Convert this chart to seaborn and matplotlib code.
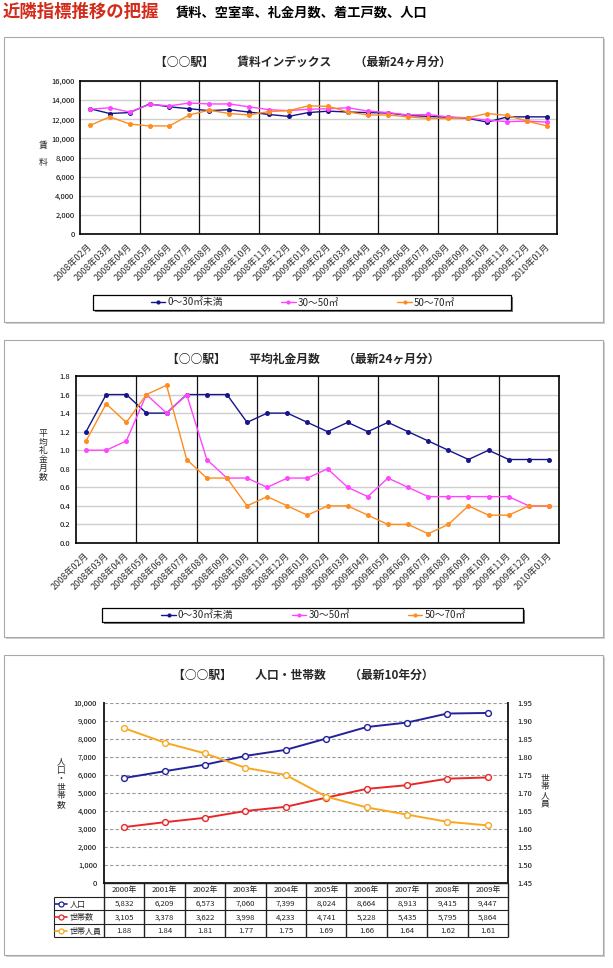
import numpy as np
import pandas as pd
import matplotlib
matplotlib.use("Agg")
import matplotlib.pyplot as plt
import seaborn as sns
from matplotlib.patches import Rectangle
from matplotlib.lines import Line2D
from matplotlib.ticker import FuncFormatter
from matplotlib.transforms import blended_transform_factory, ScaledTranslation

# ---------------- data ----------------
months = ["2008年02月", "2008年03月", "2008年04月", "2008年05月", "2008年06月", "2008年07月",
          "2008年08月", "2008年09月", "2008年10月", "2008年11月", "2008年12月", "2009年01月",
          "2009年02月", "2009年03月", "2009年04月", "2009年05月", "2009年06月", "2009年07月",
          "2009年08月", "2009年09月", "2009年10月", "2009年11月", "2009年12月", "2010年01月"]
series_labels = ["0～30㎡未満", "30～50㎡", "50～70㎡"]

rent_0_30 = [13100, 12600, 12700, 13600, 13300, 13100, 12900, 13000, 12750, 12500, 12300, 12700,
             12850, 12750, 12700, 12650, 12400, 12300, 12200, 12100, 11700, 12250, 12250, 12250]
rent_30_50 = [13050, 13200, 12750, 13550, 13400, 13700, 13600, 13600, 13300, 13000, 12900, 13050,
              13100, 13200, 12850, 12700, 12450, 12500, 12250, 12150, 11900, 11750, 11800, 11700]
rent_50_70 = [11350, 12250, 11500, 11300, 11300, 12450, 12950, 12600, 12450, 12800, 12900, 13400,
              13350, 12750, 12450, 12450, 12250, 12100, 12100, 12150, 12600, 12400, 11800, 11300]

reikin_0_30 = [1.2, 1.6, 1.6, 1.4, 1.4, 1.6, 1.6, 1.6, 1.3, 1.4, 1.4, 1.3,
               1.2, 1.3, 1.2, 1.3, 1.2, 1.1, 1.0, 0.9, 1.0, 0.9, 0.9, 0.9]
reikin_30_50 = [1.0, 1.0, 1.1, 1.6, 1.4, 1.6, 0.9, 0.7, 0.7, 0.6, 0.7, 0.7,
                0.8, 0.6, 0.5, 0.7, 0.6, 0.5, 0.5, 0.5, 0.5, 0.5, 0.4, 0.4]
reikin_50_70 = [1.1, 1.5, 1.3, 1.6, 1.7, 0.9, 0.7, 0.7, 0.4, 0.5, 0.4, 0.3,
                0.4, 0.4, 0.3, 0.2, 0.2, 0.1, 0.2, 0.4, 0.3, 0.3, 0.4, 0.4]

years = ["2000年", "2001年", "2002年", "2003年", "2004年", "2005年", "2006年", "2007年", "2008年", "2009年"]
population = [5832, 6209, 6573, 7060, 7399, 8024, 8664, 8913, 9415, 9447]
households = [3105, 3378, 3622, 3998, 4233, 4741, 5228, 5435, 5795, 5864]
persons_per_household = [1.88, 1.84, 1.81, 1.77, 1.75, 1.69, 1.66, 1.64, 1.62, 1.61]
table_labels = ["人口", "世帯数", "世帯人員"]

# ---------------- style ----------------
sns.set_theme(style="white")
plt.rcParams["font.family"] = ["Noto Sans CJK JP", "DejaVu Sans"]
plt.rcParams["axes.unicode_minus"] = False

W, H, DPI = 613, 968, 100
fig = plt.figure(figsize=(W / DPI, H / DPI), dpi=DPI)
fig.patch.set_facecolor("white")


def fx(x):
    return x / W


def fy(y):
    return 1 - y / H


def box(x0, y0, x1, y1):
    return [x0 / W, 1 - y1 / H, (x1 - x0) / W, (y1 - y0) / H]


def rect(x0, y0, x1, y1, **kw):
    r = Rectangle((fx(x0), fy(y1)), (x1 - x0) / W, (y1 - y0) / H, transform=fig.transFigure, **kw)
    fig.add_artist(r)
    return r


def panel(x0, y0, x1, y1):
    rect(x0 + 2, y0 + 2, x1 + 2, y1 + 2, facecolor="#cfcfcf", edgecolor="none", zorder=-3)
    rect(x0, y0, x1, y1, facecolor="white", edgecolor="#a9a9a9", lw=0.8, zorder=-2)


line_colors = ["#16168a", "#ff45ff", "#ff8c1e"]

# ---------------- header ----------------
fig.text(fx(3), fy(12), "近隣指標推移の把握", color="#d42a1a", fontsize=12.5,
         fontweight="bold", ha="left", va="center")
fig.text(fx(176), fy(13), "賃料、空室率、礼金月数、着工戸数、人口", color="black",
         fontsize=9.5, fontweight="bold", ha="left", va="center")

panel(4, 37, 603, 322)
panel(4, 340, 603, 637)
panel(4, 655, 603, 955)


def monthly_chart(rect_px, values, ymax, ystep, fmt, title, title_y, ylab, ylab_xy, ylab_ls, leg_px):
    df = pd.concat([pd.DataFrame({"idx": np.arange(len(months)), "value": v, "series": name})
                    for name, v in zip(series_labels, values)], ignore_index=True)
    ax = fig.add_axes(box(*rect_px))
    ax.set_facecolor("white")
    for name, color in zip(series_labels, line_colors):
        sub = df[df["series"] == name]
        sns.lineplot(data=sub, x="idx", y="value", color=color, marker="o", markersize=3.6,
                     markeredgewidth=0, linewidth=1.0, ax=ax, legend=False, zorder=3)
    ax.set_xlim(-0.5, len(months) - 0.5)
    ax.set_ylim(0, ymax)
    ax.set_yticks(np.arange(0, ymax + ystep / 2, ystep))
    ax.yaxis.set_major_formatter(FuncFormatter(fmt))
    ax.set_xticks([])
    ax.set_xlabel("")
    ax.set_ylabel("")
    ax.yaxis.grid(True, color="#cfcfcf", lw=1.0)
    ax.set_axisbelow(True)
    for b in np.arange(2.5, len(months) - 1, 3):
        ax.axvline(b, color="#111111", lw=0.9, zorder=2)
    for s in ax.spines.values():
        s.set_visible(True)
        s.set_color("black")
        s.set_linewidth(1.2)
    ax.tick_params(axis="y", length=0, pad=4, labelsize=5.5, labelcolor="black")
    trans = blended_transform_factory(ax.transData, ax.transAxes) + \
        ScaledTranslation(1 / DPI, -11 / DPI, fig.dpi_scale_trans)
    for i, lab in enumerate(months):
        ax.text(i, 0, lab, transform=trans, rotation=45, rotation_mode="anchor",
                ha="right", va="center", fontsize=6.5, color="#333333")
    fig.text(fx(303), fy(title_y), title, ha="center", va="center", fontsize=8.5, fontweight="bold")
    fig.text(fx(ylab_xy[0]), fy(ylab_xy[1]), ylab, ha="center", va="center", fontsize=6.3,
             linespacing=ylab_ls)
    lx0, ly0, lx1, ly1 = leg_px
    rect(lx0 + 2, ly0 + 2, lx1 + 2, ly1 + 2, facecolor="#777777", edgecolor="none", zorder=4)
    rect(lx0, ly0, lx1, ly1, facecolor="white", edgecolor="black", lw=0.9, zorder=5)
    handles = [Line2D([], [], color=c, marker="o", ms=3, mew=0, lw=1.0) for c in line_colors]
    leg = fig.legend(handles, series_labels, loc="center",
                     bbox_to_anchor=(fx((lx0 + lx1) / 2 + 1), fy((ly0 + ly1) / 2)),
                     bbox_transform=fig.transFigure, ncol=3, frameon=False, fontsize=7,
                     handlelength=1.5, handletextpad=0.2, columnspacing=6, borderpad=0)
    leg.set_zorder(6)
    return ax


monthly_chart((80, 81, 557, 234), [rent_0_30, rent_30_50, rent_50_70], 16000, 2000,
              lambda v, p: f"{v:,.0f}",
              "【○○駅】　　賃料インデックス　　（最新24ヶ月分）", 62,
              "賃\n\n料", (43, 154), 1.0, (93, 295, 511, 310))

monthly_chart((76, 376, 559, 543), [reikin_0_30, reikin_30_50, reikin_50_70], 1.8, 0.2,
              lambda v, p: f"{v:.1f}",
              "【○○駅】　　平均礼金月数　　（最新24ヶ月分）", 359,
              "平\n均\n礼\n金\n月\n数", (43, 455), 0.95, (102, 608, 523, 622))

# ---------------- population chart ----------------
c_pop, c_hh, c_pph = "#22229a", "#e82828", "#f8a820"
idx10 = np.arange(len(years))
pop_df = pd.DataFrame({"idx": idx10, "人口": population, "世帯数": households,
                       "世帯人員": persons_per_household})

ax3 = fig.add_axes(box(104, 703, 508, 883))
ax3.set_facecolor("white")
for col, c in [("人口", c_pop), ("世帯数", c_hh)]:
    sns.lineplot(data=pop_df, x="idx", y=col, color=c, marker="o", markersize=4.2,
                 markerfacecolor="white", markeredgecolor=c, markeredgewidth=1.0,
                 linewidth=1.4, ax=ax3, legend=False, zorder=3)
ax3.set_xlim(-0.5, len(years) - 0.5)
ax3.set_ylim(0, 10000)
ax3.set_yticks(np.arange(0, 10001, 1000))
ax3.yaxis.set_major_formatter(FuncFormatter(lambda v, p: f"{v:,.0f}"))
ax3.set_xticks([])
ax3.set_xlabel("")
ax3.set_ylabel("")
ax3.yaxis.grid(True, color="#9a9a9a", lw=0.8, linestyle=(0, (3, 2)))
ax3.set_axisbelow(True)
ax3.spines["top"].set_visible(False)
ax3.spines["right"].set_visible(False)
ax3.spines["left"].set_color("#222222")
ax3.spines["left"].set_linewidth(1.4)
ax3.spines["bottom"].set_color("black")
ax3.spines["bottom"].set_linewidth(1.2)
ax3.tick_params(axis="y", length=0, pad=5, labelsize=5.5, labelcolor="black")

ax3b = ax3.twinx()
sns.lineplot(data=pop_df, x="idx", y="世帯人員", color=c_pph, marker="o", markersize=4.2,
             markerfacecolor="white", markeredgecolor=c_pph, markeredgewidth=1.0,
             linewidth=1.4, ax=ax3b, legend=False, zorder=3)
ax3b.set_ylim(1.45, 1.95)
ax3b.set_yticks(np.arange(1.45, 1.951, 0.05))
ax3b.yaxis.set_major_formatter(FuncFormatter(lambda v, p: f"{v:.2f}"))
ax3b.set_ylabel("")
ax3b.grid(False)
for s in ["top", "left", "bottom"]:
    ax3b.spines[s].set_visible(False)
ax3b.spines["right"].set_color("#222222")
ax3b.spines["right"].set_linewidth(1.4)
ax3b.tick_params(axis="y", length=0, pad=7, labelsize=5.5, labelcolor="black")

fig.text(fx(303), fy(675), "【○○駅】　　人口・世帯数　　（最新10年分）", ha="center", va="center",
         fontsize=8.5, fontweight="bold")
fig.text(fx(61), fy(783), "人\n口\n・\n世\n帯\n数", ha="center", va="center", fontsize=6.3,
         linespacing=0.95)
fig.text(fx(545), fy(791), "世\n帯\n人\n員", ha="center", va="center", fontsize=6.3,
         linespacing=0.95)

# data table
cw = (508 - 104) / len(years)
lab_w = 50.4
tab = fig.add_axes(box(104 - lab_w, 883, 508, 937))
L = -0.5 - lab_w / cw
tab.set_xlim(L, len(years) - 0.5)
tab.set_ylim(4, 0)
tab.axis("off")
lc = "#222222"
tab.hlines([0], -0.5, len(years) - 0.5, color=lc, lw=1.0, clip_on=False)
tab.hlines([1, 2, 3, 4], L, len(years) - 0.5, color=lc, lw=0.8, clip_on=False)
tab.vlines(np.arange(-0.5, len(years), 1), 0, 4, color=lc, lw=1.0, clip_on=False)
tab.vlines([L], 1, 4, color=lc, lw=0.8, clip_on=False)
for i, y in enumerate(years):
    tab.text(i, 0.55, y, ha="center", va="center", fontsize=5.6, color="#222222")
rows = [([f"{v:,}" for v in population], c_pop),
        ([f"{v:,}" for v in households], c_hh),
        ([f"{v:.2f}" for v in persons_per_household], c_pph)]
for r, ((vals, c), lab) in enumerate(zip(rows, table_labels)):
    yy = r + 1.55
    for i, s in enumerate(vals):
        tab.text(i, yy, s, ha="center", va="center", fontsize=5.6, color="#222222")
    tab.plot([L + 0.04, L + 0.34], [yy, yy], color=c, lw=1.2, clip_on=False)
    tab.plot([L + 0.19], [yy], marker="o", ms=3.6, mfc="white", mec=c, mew=0.9, clip_on=False)
    tab.text(L + 0.40, yy, lab, ha="left", va="center", fontsize=5.8, color="#222222")

fig.savefig("out.png", dpi=DPI)
